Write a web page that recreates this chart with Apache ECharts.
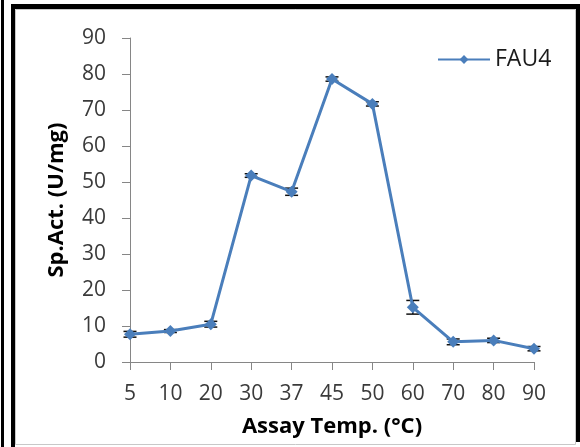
<!DOCTYPE html>
<html>
<head>
<meta charset="utf-8">
<script src="https://cdn.jsdelivr.net/npm/echarts@6/dist/echarts.min.js"></script>
<style>
html,body{margin:0;padding:0;background:#fff;}
#chart{width:580px;height:447px;}
</style>
</head>
<body>
<div id="chart"></div>
<script>
var categories = ['5','10','20','30','37','45','50','60','70','80','90'];
var activity = [7.7, 8.6, 10.5, 51.8, 47.3, 78.6, 71.7, 15.2, 5.6, 6.0, 3.7];
var errors = [0.8, 0.4, 0.8, 0.5, 1.0, 0.6, 0.6, 1.9, 0.8, 0.6, 0.6];
var yTicks = {min: 0, max: 90, interval: 10};

var chart = echarts.init(document.getElementById('chart'), null, {renderer: 'canvas'});
var FONT = 'Open Sans';
var errData = categories.map(function (c, i) { return [i, activity[i], errors[i]]; });

var option = {
  animation: false,
  backgroundColor: '#ffffff',
  grid: {left: 130, right: 46, top: 38, bottom: 85},
  legend: {
    data: ['FAU4'],
    left: 432, top: 43,
    itemWidth: 52, itemHeight: 11,
    textStyle: {fontFamily: FONT, fontSize: 23, color: '#1a1a1a'}
  },
  xAxis: {
    type: 'category',
    data: categories,
    boundaryGap: false,
    name: 'Assay Temp. (°C)',
    nameLocation: 'middle',
    nameGap: 54,
    nameTextStyle: {fontFamily: FONT, fontSize: 22, fontWeight: 'bold', color: '#000'},
    axisLine: {lineStyle: {color: '#868686', width: 1}},
    axisTick: {show: true, length: 8, alignWithLabel: true, lineStyle: {color: '#868686'}},
    axisLabel: {fontFamily: FONT, fontSize: 21, color: '#3a3a3a', margin: 22, interval: 0},
    splitLine: {show: false}
  },
  yAxis: {
    type: 'value',
    min: yTicks.min, max: yTicks.max, interval: yTicks.interval,
    name: 'Sp.Act. (U/mg)',
    nameLocation: 'middle',
    nameGap: 62,
    nameTextStyle: {fontFamily: FONT, fontSize: 22, fontWeight: 'bold', color: '#000'},
    axisLine: {show: true, lineStyle: {color: '#868686', width: 1}},
    axisTick: {show: true, length: 8, lineStyle: {color: '#868686'}},
    axisLabel: {fontFamily: FONT, fontSize: 21, color: '#3a3a3a', margin: 24},
    splitLine: {show: false}
  },
  series: [
    {
      name: 'err',
      type: 'custom',
      data: errData,
      z: 2,
      renderItem: function (params, api) {
        var i = api.value(0), v = api.value(1), e = api.value(2);
        var top = api.coord([i, v + e]);
        var bot = api.coord([i, v - e]);
        var hw = 6.5;
        var style = {stroke: '#111', lineWidth: 1.5};
        return {
          type: 'group',
          children: [
            {type: 'line', shape: {x1: top[0], y1: top[1], x2: bot[0], y2: bot[1]}, style: style},
            {type: 'line', shape: {x1: top[0] - hw, y1: top[1], x2: top[0] + hw, y2: top[1]}, style: style},
            {type: 'line', shape: {x1: bot[0] - hw, y1: bot[1], x2: bot[0] + hw, y2: bot[1]}, style: style}
          ]
        };
      }
    },
    {
      name: 'FAU4',
      type: 'line',
      data: activity,
      symbol: 'diamond',
      symbolSize: 12,
      showSymbol: true,
      lineStyle: {color: '#4a7ebb', width: 3},
      itemStyle: {color: '#4a7ebb'},
      z: 3
    }
  ],
  graphic: [
    {type: 'rect', shape: {x: 15.5, y: 9.5, width: 560, height: 435}, style: {fill: 'none', stroke: '#c8c8c8', lineWidth: 1}, silent: true},
    {type: 'rect', shape: {x: 1, y: 0, width: 3, height: 447}, style: {fill: '#000'}, silent: true},
    {type: 'rect', shape: {x: 11, y: 4, width: 4, height: 443}, style: {fill: '#000'}, silent: true},
    {type: 'rect', shape: {x: 11, y: 4, width: 569, height: 5}, style: {fill: '#000'}, silent: true},
    {type: 'rect', shape: {x: 576, y: 4, width: 4, height: 438}, style: {fill: '#000'}, silent: true}
  ]
};
chart.setOption(option);
</script>
</body>
</html>
